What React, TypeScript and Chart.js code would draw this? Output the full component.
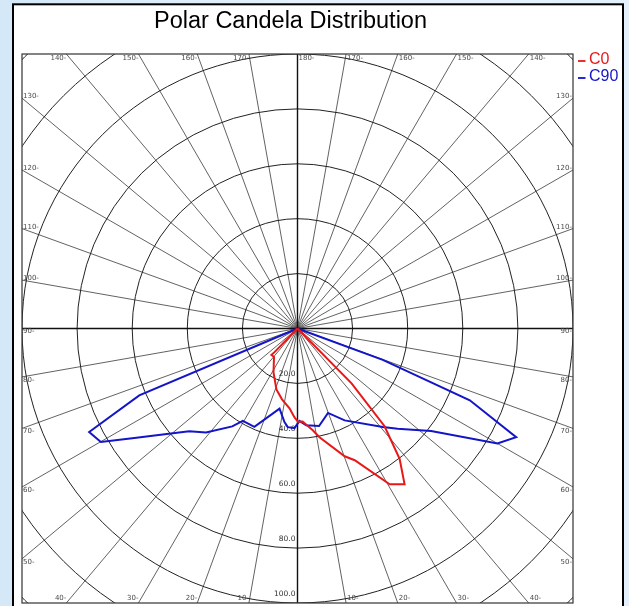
import { useEffect, useRef } from "react";
import { Chart, registerables } from "chart.js";

Chart.register(...registerables);

// ---- data (gamma angle in degrees from nadir: negative = left half-plane, positive = right) ----
const C0_ANGLES = [-90, -44.1, -44.5, -39.5, -28.6, -19.0, -12.3, -5.7, -1.9, 0.3, 3.1, 8.5, 11.4, 20.2, 23.4, 30.5, 34.4, 38.0, 41.6, 44.5, 90];
const C0_VALUES = [0, 12.0, 13.5, 13.4, 18.2, 23.5, 26.4, 29.2, 32.4, 34.0, 33.9, 37.5, 40.4, 49.6, 52.3, 65.9, 68.8, 60.2, 47.6, 28.0, 0];

const C90_ANGLES = [-90, -67.0, -63.5, -59.9, -56.3, -46.4, -41.2, -33.6, -30.5, -23.6, -12.6, -7.9, -5.6, -1.7, 1.2, 5.1, 12.4, 19.8, 27.1, 40.8, 44.9, 52.4, 60.0, 63.5, 67.3, 69.7, 90];
const C90_VALUES = [0, 62.4, 84.5, 82.5, 72.1, 54.3, 50.4, 42.8, 39.1, 39.1, 29.9, 34.4, 36.1, 36.3, 33.7, 35.4, 36.4, 32.7, 37.6, 47.4, 51.5, 61.2, 83.8, 88.7, 67.8, 33.0, 0];

const SERIES_NAMES = ["C0", "C90"];
const SERIES_COLORS = ["#e81818", "#1414c8"];

const RING_VALUES = [20, 40, 60, 80, 100, 120, 140];
const RING_LABELS = ["20.0", "40.0", "60.0", "80.0", "100.0", "", ""];
const RAY_ANGLES = [0, 10, 20, 30, 40, 50, 60, 70, 80, 90, 100, 110, 120, 130, 140, 150, 160, 170, 180];

const TITLE = "Polar Candela Distribution";

const rad = (d: number) => (d * Math.PI) / 180;
const toXY = (angles: number[], values: number[]) =>
  angles.map((a, i) => ({ x: values[i] * Math.sin(rad(a)), y: -values[i] * Math.cos(rad(a)) }));

const polarPlugin = {
  id: "polarGrid",
  beforeDraw(chart: any) {
    const ctx = chart.ctx as CanvasRenderingContext2D;
    ctx.save();
    ctx.fillStyle = "#ffffff";
    ctx.fillRect(13, 4, 610, 610);
    ctx.strokeStyle = "#000000";
    ctx.lineWidth = 2;
    ctx.strokeRect(13, 4.3, 610, 620);
    ctx.restore();
  },
  beforeDatasetsDraw(chart: any) {
    const ctx = chart.ctx as CanvasRenderingContext2D;
    const { left, right, top, bottom } = chart.chartArea;
    const xs = chart.scales.x;
    const ys = chart.scales.y;
    const cx = xs.getPixelForValue(0);
    const cy = ys.getPixelForValue(0);
    const px = (v: number) => xs.getPixelForValue(v);
    const py = (v: number) => ys.getPixelForValue(v);

    ctx.save();
    ctx.beginPath();
    ctx.rect(left, top, right - left, bottom - top);
    ctx.clip();

    // rays
    ctx.strokeStyle = "#505050";
    ctx.lineWidth = 0.9;
    RAY_ANGLES.forEach((g) => {
      [-1, 1].forEach((s) => {
        const dx = s * Math.sin(rad(g));
        const dy = -Math.cos(rad(g));
        ctx.beginPath();
        ctx.moveTo(cx, cy);
        ctx.lineTo(px(dx * 200), py(dy * 200));
        ctx.stroke();
      });
    });

    // rings
    ctx.strokeStyle = "#222222";
    ctx.lineWidth = 1;
    RING_VALUES.forEach((v) => {
      const rx = px(v) - cx;
      const ry = cy - py(v);
      ctx.beginPath();
      ctx.ellipse(cx, cy, rx, ry, 0, 0, Math.PI * 2);
      ctx.stroke();
    });

    // main axes
    ctx.strokeStyle = "#111111";
    ctx.lineWidth = 1.4;
    ctx.beginPath();
    ctx.moveTo(left, cy);
    ctx.lineTo(right, cy);
    ctx.moveTo(cx, top);
    ctx.lineTo(cx, bottom);
    ctx.stroke();
    ctx.restore();

    // box
    ctx.save();
    ctx.strokeStyle = "#333333";
    ctx.lineWidth = 1.2;
    ctx.strokeRect(left, top, right - left, bottom - top);

    // ring labels
    ctx.fillStyle = "#333333";
    ctx.font = "7.5px 'DejaVu Sans'";
    ctx.textAlign = "right";
    ctx.textBaseline = "middle";
    RING_VALUES.forEach((v, i) => {
      if (!RING_LABELS[i]) return;
      ctx.fillText(RING_LABELS[i], cx - 2, py(-v) - 9);
    });

    // angle labels on box edges
    ctx.fillStyle = "#4a4a4a";
    ctx.font = "7px 'DejaVu Sans'";
    RAY_ANGLES.forEach((g) => {
      if (g === 0) return;
      const sides = g === 180 ? [1] : [-1, 1];
      sides.forEach((s) => {
        const dx = s * Math.sin(rad(g));
        const dy = -Math.cos(rad(g));
        const txt = `${g}-`;
        if (Math.abs(dx) > Math.abs(dy)) {
          const t = 100 / Math.abs(dx);
          const yPix = py(dy * t) + (g > 90 ? -1.5 : 3);
          ctx.textBaseline = "middle";
          if (s < 0) {
            ctx.textAlign = "left";
            ctx.fillText(txt, left + 1, yPix);
          } else {
            ctx.textAlign = "right";
            ctx.fillText(txt, right - 1, yPix);
          }
        } else {
          const t = 100 / Math.abs(dy);
          const xPix = px(dx * t);
          const yPix = dy > 0 ? top + 4 : bottom - 5;
          ctx.textBaseline = "middle";
          if (s < 0) {
            ctx.textAlign = "right";
            ctx.fillText(txt, xPix, yPix);
          } else {
            ctx.textAlign = "left";
            ctx.fillText(txt, xPix + 1, yPix);
          }
        }
      });
    });
    ctx.restore();
  },
  afterDraw(chart: any) {
    const ctx = chart.ctx as CanvasRenderingContext2D;
    ctx.save();
    // title
    ctx.fillStyle = "#000000";
    ctx.font = "23.5px 'Liberation Sans', Arial, sans-serif";
    ctx.textAlign = "center";
    ctx.textBaseline = "alphabetic";
    ctx.fillText(TITLE, 290.5, 27.5);

    // legend
    ctx.font = "16px 'Liberation Sans', Arial, sans-serif";
    ctx.textAlign = "left";
    ctx.textBaseline = "middle";
    SERIES_NAMES.forEach((name, i) => {
      const y = 60 + i * 17;
      ctx.strokeStyle = SERIES_COLORS[i];
      ctx.lineWidth = 1.8;
      ctx.beginPath();
      ctx.moveTo(578, y + 1);
      ctx.lineTo(585.5, y + 1);
      ctx.stroke();
      ctx.fillStyle = SERIES_COLORS[i];
      ctx.fillText(name, 589, y);
    });
    ctx.restore();
  },
};

export default function App() {
  const ref = useRef<HTMLCanvasElement>(null);

  useEffect(() => {
    const canvas = ref.current;
    if (!canvas) return;
    const series = [toXY(C0_ANGLES, C0_VALUES), toXY(C90_ANGLES, C90_VALUES)];
    const chart = new Chart(canvas, {
      type: "scatter",
      data: {
        datasets: SERIES_NAMES.map((name, i) => ({
          label: name,
          data: series[i],
          showLine: true,
          borderColor: SERIES_COLORS[i],
          backgroundColor: SERIES_COLORS[i],
          borderWidth: 2,
          pointRadius: 0,
          pointHoverRadius: 0,
          fill: false,
          tension: 0,
        })),
      },
      options: {
        animation: false,
        responsive: false,
        devicePixelRatio: 1,
        events: [],
        layout: { padding: { left: 22, top: 54, right: 56, bottom: 3 } },
        scales: {
          x: { type: "linear", min: -100, max: 100, display: false },
          y: { type: "linear", min: -100, max: 100, display: false },
        },
        plugins: {
          legend: { display: false },
          title: { display: false },
          tooltip: { enabled: false },
        },
      },
      plugins: [polarPlugin],
    });
    return () => chart.destroy();
  }, []);

  return (
    <div
      style={{
        position: "absolute",
        left: 0,
        top: 0,
        width: 629,
        height: 606,
        overflow: "hidden",
        background: "linear-gradient(90deg, #d4e8f8 0%, #e6f1fb 50%, #e4f0fb 100%)",
      }}
    >
      <canvas ref={ref} width={629} height={606} style={{ display: "block" }} />
    </div>
  );
}
